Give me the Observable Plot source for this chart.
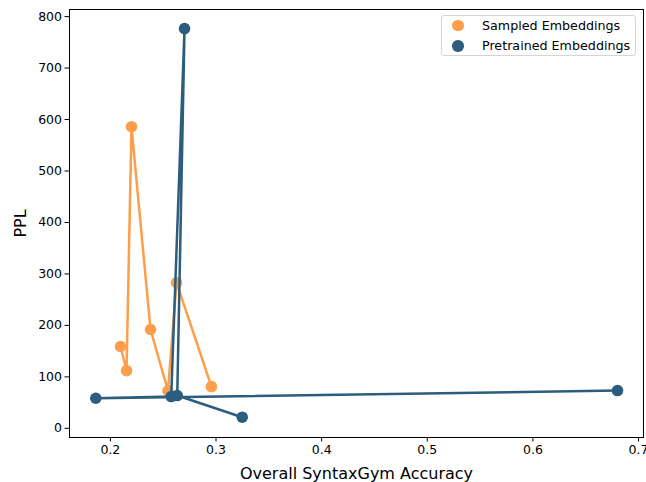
<!DOCTYPE html>
<html><head><meta charset="utf-8">
<script src="https://cdn.jsdelivr.net/npm/d3@7"></script>
<script src="https://cdn.jsdelivr.net/npm/@observablehq/plot@0.6"></script>
<style>
body{margin:0;background:#fff;}
#wrap{position:relative;width:646px;height:482px;}
.legend{position:absolute;left:441px;top:15px;width:195px;height:41px;box-sizing:border-box;border:1px solid #d4d4d4;border-radius:3px;background:rgba(255,255,255,0.8);font-family:"DejaVu Sans";font-size:12.7px;color:#000;}
.legend .row{position:absolute;left:0;height:20px;display:flex;align-items:center;}
.legend .sw{position:absolute;left:10px;width:11.5px;height:11.5px;border-radius:50%;}
.legend .lb{position:absolute;left:40px;white-space:nowrap;}
</style>
</head><body>
<div id="wrap"></div>
<script>
const seriesNames = ["Sampled Embeddings", "Pretrained Embeddings"];
const seriesColors = ["#fd9e4a", "#2c5d7e"];
const sampledAcc = [0.2096, 0.2153, 0.2200, 0.2380, 0.2545, 0.2626, 0.2957];
const sampledPPL = [159, 112, 586, 192, 73, 283, 81];
const pretrainedAcc = [0.6801, 0.1862, 0.2576, 0.2702, 0.2633, 0.3248];
const pretrainedPPL = [73.4, 58.5, 61.8, 776.7, 63.7, 21.6];
const xTicks = [0.2, 0.3, 0.4, 0.5, 0.6, 0.7];
const yTicks = [0, 100, 200, 300, 400, 500, 600, 700, 800];

const sampled = sampledAcc.map((a, i) => ({acc: a, ppl: sampledPPL[i]}));
const pretrained = pretrainedAcc.map((a, i) => ({acc: a, ppl: pretrainedPPL[i]}));

const chart = Plot.plot({
  width: 646,
  height: 482,
  marginLeft: 69,
  marginRight: 3,
  marginTop: 9,
  marginBottom: 45,
  style: {fontFamily: "DejaVu Sans", fontSize: "12.5px", background: "white", color: "black"},
  x: {domain: [0.1613, 0.7047]},
  y: {domain: [-17.8, 813.8]},
  marks: [
    Plot.frame({stroke: "black", strokeWidth: 1}),
    Plot.axisX(xTicks, {tickSize: 4.5, tickPadding: 3, tickFormat: d => d.toFixed(1), label: "Overall SyntaxGym Accuracy", labelAnchor: "center", labelArrow: "none", labelOffset: 41, fontSize: 12.5}),
    Plot.axisY(yTicks, {tickSize: 4.5, tickPadding: 3, label: "PPL", labelAnchor: "center", labelArrow: "none", labelOffset: 55, fontSize: 12.5}),
    Plot.line(sampled, {x: "acc", y: "ppl", stroke: seriesColors[0], strokeWidth: 2.5}),
    Plot.dot(sampled, {x: "acc", y: "ppl", r: 5.8, fill: seriesColors[0], stroke: "none"}),
    Plot.line(pretrained, {x: "acc", y: "ppl", stroke: seriesColors[1], strokeWidth: 2.5}),
    Plot.dot(pretrained, {x: "acc", y: "ppl", r: 5.8, fill: seriesColors[1], stroke: "none"})
  ]
});
chart.querySelectorAll("g[aria-label='x-axis label'] text, g[aria-label='y-axis label'] text").forEach(t => t.setAttribute("font-size", "16px"));
const wrap = document.getElementById("wrap");
wrap.appendChild(chart);

const legend = document.createElement("div");
legend.className = "legend";
seriesNames.forEach((name, i) => {
  const row = document.createElement("div");
  row.className = "row";
  row.style.top = (-0.5 + i * 20.3) + "px";
  row.innerHTML = `<span class="sw" style="background:${seriesColors[i]}"></span><span class="lb">${name}</span>`;
  legend.appendChild(row);
});
wrap.appendChild(legend);
</script>
</body></html>
